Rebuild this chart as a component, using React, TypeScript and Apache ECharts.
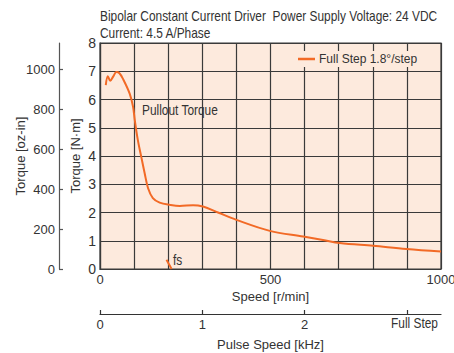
import { useEffect, useRef } from "react";
import * as echarts from "echarts";

// Pullout torque curve, full step 1.8°/step
const speedRpm = [17, 23, 30, 39, 48, 57, 67, 87, 97, 102, 111, 121, 131, 141, 155, 175, 205, 234, 273, 302, 346, 400, 498, 596, 654, 703, 801, 899, 1000];
const torqueNm = [6.51, 6.82, 6.66, 6.82, 6.97, 6.93, 6.74, 6.21, 5.74, 5.27, 4.56, 3.97, 3.39, 2.86, 2.51, 2.35, 2.27, 2.23, 2.26, 2.21, 2.0, 1.74, 1.35, 1.15, 1.03, 0.92, 0.82, 0.71, 0.62];

// Start frequency (fs) marker segment
const fsSpeed = [195, 210];
const fsTorque = [0.33, 0];

const speedLabels = [0, 500, 1000];
const ozInTicks = [0, 200, 400, 600, 800, 1000];
const khzTicks = [0, 1, 2, 3];
const khzLabels = [0, 1, 2];

const NM_MAX = 8;
const OZIN_PER_NM = 141.612;
const RPM_PER_KHZ = 300;
const SPEED_MAX = 1000;

const FONT = "Liberation Sans, Arial, sans-serif";
const TEXT = "#333333";
const CURVE = "#f26a26";
const PLOT_BG = "#fdeadd";
const GRID_LINE = "#3a3a3a";
const NARROW = 0.85;

const plain = (v: number) => String(v);

export default function App() {
  const ref = useRef<HTMLDivElement>(null);

  useEffect(() => {
    if (!ref.current) return;
    const chart = echarts.init(ref.current, null, { renderer: "svg" });
    const textStyle = { fontFamily: FONT, fontSize: 13, color: TEXT };
    const caption = (text: string, x: number, y: number, z = 10) => ({
      type: "text",
      x,
      y,
      scaleX: NARROW,
      z,
      style: { text, font: `14px ${FONT}`, fill: TEXT, textVerticalAlign: "middle" },
    });

    chart.setOption({
      animation: false,
      textStyle: { fontFamily: FONT },
      grid: {
        left: 100,
        right: 13,
        top: 43,
        bottom: 84,
        show: true,
        outerBoundsMode: "none",
        containLabel: false,
        backgroundColor: PLOT_BG,
        borderColor: GRID_LINE,
        borderWidth: 1.2,
      },
      legend: {
        data: ["Full Step 1.8°/step"],
        left: 294,
        top: 51,
        icon: "rect",
        itemWidth: 17,
        itemHeight: 2.5,
        itemGap: 4,
        padding: [2, 4],
        backgroundColor: PLOT_BG,
        textStyle: { fontFamily: FONT, fontSize: 12, color: TEXT, padding: [0, 0, 0, -1] },
      },
      xAxis: [
        {
          type: "value",
          min: 0,
          max: SPEED_MAX,
          interval: 100,
          position: "bottom",
          name: "Speed [r/min]",
          nameLocation: "middle",
          nameGap: 21,
          nameMoveOverlap: false,
          nameTextStyle: textStyle,
          axisLine: { show: true, lineStyle: { color: GRID_LINE, width: 1.2 } },
          axisTick: { show: false },
          axisLabel: { ...textStyle, margin: 4, customValues: speedLabels, formatter: plain },
          splitLine: { show: true, lineStyle: { color: GRID_LINE, width: 1.2 } },
        },
        {
          type: "value",
          min: 0,
          max: SPEED_MAX / RPM_PER_KHZ,
          position: "bottom",
          offset: 45,
          name: "Pulse Speed [kHz]",
          nameLocation: "middle",
          nameGap: 24,
          nameMoveOverlap: false,
          nameTextStyle: textStyle,
          axisLine: { show: true, onZero: false, lineStyle: { color: TEXT, width: 1.2 } },
          axisTick: { show: true, inside: true, length: 4, customValues: khzTicks, lineStyle: { color: TEXT, width: 1.2 } },
          axisLabel: { ...textStyle, margin: 4, customValues: khzLabels, formatter: plain },
          splitLine: { show: false },
        },
      ],
      yAxis: [
        {
          type: "value",
          min: 0,
          max: NM_MAX,
          interval: 1,
          position: "left",
          name: "Torque [N·m]",
          nameLocation: "middle",
          nameGap: 18,
          nameMoveOverlap: false,
          nameTextStyle: textStyle,
          axisLine: { show: true, lineStyle: { color: GRID_LINE, width: 1.2 } },
          axisTick: { show: false },
          axisLabel: { ...textStyle, fontSize: 14, margin: 4, formatter: plain },
          splitLine: { show: true, lineStyle: { color: GRID_LINE, width: 1.2 } },
        },
        {
          type: "value",
          min: 0,
          max: NM_MAX * OZIN_PER_NM,
          position: "left",
          offset: 41,
          name: "Torque [oz-in]",
          nameLocation: "middle",
          nameGap: 32,
          nameMoveOverlap: false,
          nameTextStyle: textStyle,
          axisLine: { show: true, onZero: false, lineStyle: { color: "#555555", width: 1.2 } },
          axisTick: { show: true, inside: true, length: 4, customValues: ozInTicks, lineStyle: { color: "#555555", width: 1.2 } },
          axisLabel: { ...textStyle, margin: 4, customValues: ozInTicks, formatter: plain },
          splitLine: { show: false },
        },
      ],
      series: [
        {
          name: "Full Step 1.8°/step",
          type: "line",
          xAxisIndex: 0,
          yAxisIndex: 0,
          data: speedRpm.map((v, i) => [v, torqueNm[i]]),
          smooth: 0.35,
          showSymbol: false,
          symbol: "none",
          itemStyle: { color: CURVE },
          lineStyle: { color: CURVE, width: 2 },
          z: 5,
        },
        {
          name: "fs",
          type: "line",
          xAxisIndex: 0,
          yAxisIndex: 0,
          data: fsSpeed.map((v, i) => [v, fsTorque[i]]),
          showSymbol: false,
          symbol: "none",
          lineStyle: { color: CURVE, width: 2 },
          z: 5,
        },
      ],
      graphic: [
        caption("Bipolar Constant Current Driver  Power Supply Voltage: 24 VDC", 100, 16.5),
        caption("Current: 4.5 A/Phase", 100, 33),
        caption("Pullout Torque", 142, 110),
        caption("fs", 173, 260),
        caption("Full Step", 391, 323),
      ],
    });

    return () => chart.dispose();
  }, []);

  return <div ref={ref} style={{ width: 454, height: 353, position: "absolute", left: 0, top: 0 }} />;
}
